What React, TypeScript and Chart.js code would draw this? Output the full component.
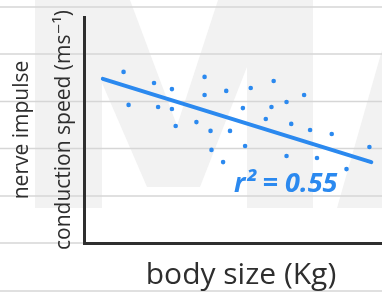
import React, { useEffect, useRef } from "react";
import { Chart, registerables } from "chart.js";

Chart.register(...registerables);

// ---- data ----
const bodySize = [
  1.26, 1.42, 2.23, 2.36, 2.8, 2.8, 2.92, 3.58, 3.84, 3.84,
  4.03, 4.06, 4.43, 4.53, 4.65, 5.06, 5.13, 5.31, 5.79, 5.97,
  6.04, 6.45, 6.45, 6.6, 7.01, 7.2, 7.42, 7.89, 8.36, 9.09,
];
const conductionSpeed = [
  7.57, 6.11, 7.08, 6.02, 6.81, 5.93, 5.18, 5.35, 7.35, 6.55,
  4.96, 4.12, 3.58, 6.73, 4.96, 5.97, 4.29, 6.86, 5.49, 6.02,
  7.17, 6.24, 3.85, 5.27, 6.55, 5.0, 3.76, 4.82, 3.27, 4.25,
];
const fitX = [0.6, 9.15];
const fitY = [7.26, 3.58];
const xTitle = "body size (Kg)";
const yTitle = ["nerve impulse", "conduction speed (ms⁻¹)"];
const r2Label = "r² = 0.55";

// ---- styles ----
const BLUE = "#2b89ef";
const INK = "#2e2e2e";
const FONT = "'Open Sans', 'DejaVu Sans', sans-serif";

const paperPlugin = {
  id: "paper",
  beforeDraw(chart: any) {
    const { ctx, width, height } = chart;
    ctx.save();
    ctx.fillStyle = "#ffffff";
    ctx.fillRect(0, 0, width, height);
    // faint watermark
    ctx.fillStyle = "#f2f2f2";
    const shapes = [
      [[35, 0], [102, 0], [102, 208], [35, 208]],
      [[102, 0], [130, 0], [200, 187], [147, 187], [102, 83]],
      [[218, 0], [247, 0], [247, 67], [200, 187], [157, 187]],
      [[247, 0], [313, 0], [313, 208], [247, 208]],
      [[337, 208], [402, -20], [402, 208]],
    ];
    shapes.forEach((s) => {
      ctx.beginPath();
      s.forEach(([x, y], i) => (i ? ctx.lineTo(x, y) : ctx.moveTo(x, y)));
      ctx.closePath();
      ctx.fill();
    });
    // ruled paper lines
    ctx.strokeStyle = "#d6d6d6";
    ctx.lineWidth = 1.5;
    [7, 54, 101.5, 148.5, 196, 243, 291].forEach((y) => {
      ctx.beginPath();
      ctx.moveTo(0, y);
      ctx.lineTo(width, y);
      ctx.stroke();
    });
    ctx.restore();
  },
};

const r2Plugin = {
  id: "r2label",
  afterDatasetsDraw(chart: any) {
    const { ctx } = chart;
    ctx.save();
    ctx.fillStyle = BLUE;
    ctx.font = `italic bold 27px ${FONT}`;
    ctx.textAlign = "left";
    ctx.textBaseline = "alphabetic";
    ctx.fillText(r2Label, 234, 192);
    ctx.restore();
  },
};

export default function App() {
  const ref = useRef<HTMLCanvasElement | null>(null);

  useEffect(() => {
    if (!ref.current) return;
    const points = bodySize.map((x, i) => ({ x, y: conductionSpeed[i] }));
    const fit = fitX.map((x, i) => ({ x, y: fitY[i] }));
    const chart = new Chart(ref.current, {
      type: "scatter",
      data: {
        datasets: [
          {
            data: points,
            pointRadius: 2.3,
            pointBackgroundColor: BLUE,
            pointBorderWidth: 0,
            showLine: false,
          },
          {
            data: fit,
            showLine: true,
            borderColor: BLUE,
            borderWidth: 4,
            borderCapStyle: "round",
            pointRadius: 0,
          },
        ],
      },
      options: {
        responsive: false,
        animation: false,
        layout: { padding: { left: 0, top: 17, right: 0, bottom: 0 } },
        plugins: { legend: { display: false }, tooltip: { enabled: false } },
        scales: {
          x: {
            type: "linear",
            min: 0,
            max: 10,
            grid: { display: false, drawTicks: false },
            ticks: { display: false },
            border: { display: true, color: INK, width: 3 },
            title: {
              display: true,
              text: xTitle,
              color: INK,
              font: { family: FONT, size: 30, lineHeight: 1.2 },
              padding: { top: 14.5, bottom: 1.5 },
            },
          },
          y: {
            type: "linear",
            min: 0,
            max: 10,
            grid: { display: false, drawTicks: false },
            ticks: { display: false },
            border: { display: true, color: INK, width: 3 },
            title: {
              display: true,
              text: yTitle,
              color: INK,
              font: { family: FONT, size: 21, lineHeight: 42 / 21 },
              padding: { top: 1, bottom: -1 },
            },
          },
        },
      },
      plugins: [paperPlugin, r2Plugin],
    } as any);
    return () => chart.destroy();
  }, []);

  return (
    <div
      style={{
        position: "absolute",
        left: 0,
        top: 0,
        width: 382,
        height: 295,
        overflow: "hidden",
      }}
    >
      <canvas ref={ref} width={402} height={295} style={{ display: "block" }} />
    </div>
  );
}
